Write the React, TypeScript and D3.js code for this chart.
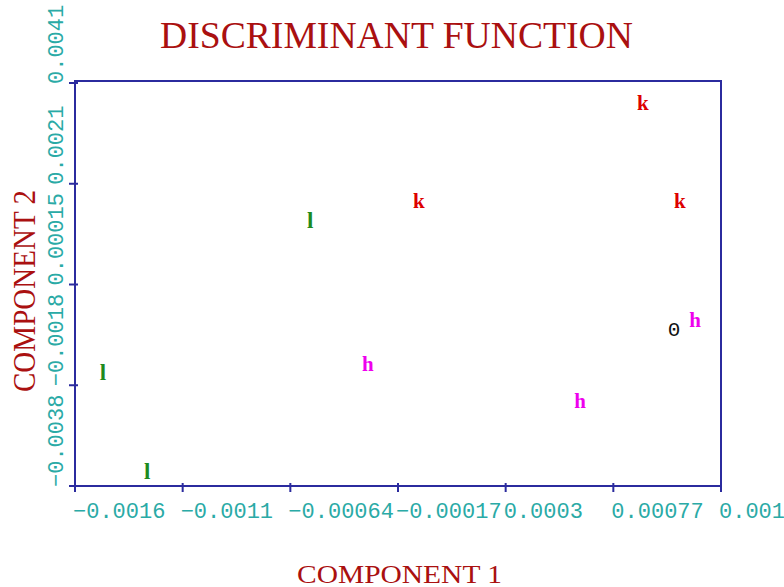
import React from "react";
import * as d3 from "d3";

const labels = ["k", "k", "k", "h", "0", "h", "h", "l", "l", "l"];
const comp1 = [0.000899, -0.000077, 0.00106, 0.001126, 0.001034, 0.000625, -0.000299, -0.000551, -0.001453, -0.001261];
const comp2 = [0.003699, 0.001783, 0.001783, -0.000544, -0.000759, -0.002128, -0.001405, 0.001392, -0.001561, -0.003497];

const xTickValues = [-0.001575, -0.001106, -0.000637, -0.000168, 0.000301, 0.00077, 0.001239];
const xTickLabels = ["\u22120.0016", "\u22120.0011", "\u22120.00064", "\u22120.00017", "0.0003", "0.00077", "0.001"];
const yTickValues = [-0.00379, -0.00182, 0.00015, 0.00212, 0.00409];
const yTickLabels = ["\u22120.0038", "\u22120.0018", "0.00015", "0.0021", "0.0041"];

const markColor: Record<string, string> = { k: "#dd0000", h: "#ee00ee", l: "#1e8a1e", "0": "#111111" };

export default function App() {
  const W = 784, H = 587;
  const left = 75, right = 721, top = 81, bottom = 486;
  const x = d3.scaleLinear().domain([xTickValues[0], xTickValues[xTickValues.length - 1]]).range([left, right]);
  const y = d3.scaleLinear().domain([yTickValues[0], yTickValues[yTickValues.length - 1]]).range([bottom, 83]);
  const axisColor = "#2b2b9e";
  const tickColor = "#2aaaa6";
  const titleColor = "#aa1010";
  const mono = "'Liberation Mono', 'DejaVu Sans Mono', monospace";
  const serif = "'Liberation Serif', 'DejaVu Serif', serif";

  return (
    <svg width={W} height={H} style={{ position: "absolute", left: 0, top: 0, background: "#fff" }}>
      <rect x={0} y={0} width={W} height={H} fill="#fff" />
      <text x={160} y={48} fontFamily={serif} fontSize={38} fill={titleColor}
        textLength={473} lengthAdjust="spacingAndGlyphs">DISCRIMINANT  FUNCTION</text>

      <rect x={left} y={top} width={right - left} height={bottom - top} fill="none" stroke={axisColor} strokeWidth={2} />
      {xTickValues.map((v, i) => (
        <g key={"xt" + i}>
          <line x1={x(v)} x2={x(v)} y1={bottom - 3} y2={bottom + 6} stroke={axisColor} strokeWidth={2} />
          <text x={x(v) - 2} y={518} fontFamily={mono} fontSize={22} fill={tickColor}>{xTickLabels[i]}</text>
        </g>
      ))}
      {yTickValues.map((v, i) => (
        <g key={"yt" + i}>
          <line x1={left - 6} x2={left + 3} y1={y(v)} y2={y(v)} stroke={axisColor} strokeWidth={2} />
          <text transform={`translate(63,${y(v) + 1}) rotate(-90)`} fontFamily={mono} fontSize={22} fill={tickColor}>{yTickLabels[i]}</text>
        </g>
      ))}

      <text x={297} y={583} fontFamily={serif} fontSize={25} fill={titleColor}
        textLength={205} lengthAdjust="spacingAndGlyphs">COMPONENT  1</text>
      <text transform="translate(35,392) rotate(-90)" fontFamily={serif} fontSize={31} fill={titleColor}
        textLength={202} lengthAdjust="spacingAndGlyphs">COMPONENT  2</text>

      {labels.map((lab, i) => (
        <text key={"m" + i} x={x(comp1[i])} y={y(comp2[i])} textAnchor="middle" dominantBaseline="central"
          fontFamily={lab === "0" ? mono : serif} fontWeight={lab === "0" ? "normal" : "bold"}
          fontSize={lab === "0" ? 21 : lab === "l" ? 23 : 21} fill={markColor[lab]}>{lab}</text>
      ))}
    </svg>
  );
}
